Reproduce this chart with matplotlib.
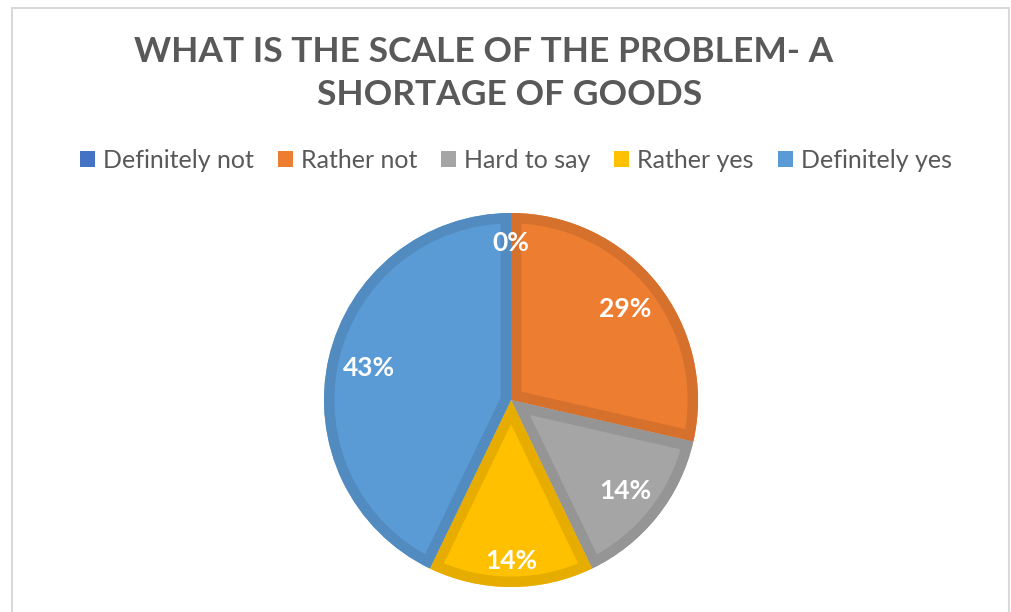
import matplotlib
matplotlib.use('Agg')
import matplotlib.pyplot as plt
from matplotlib.patches import Rectangle, PathPatch
import matplotlib.colors as mcolors

categories = ['Definitely not', 'Rather not', 'Hard to say', 'Rather yes', 'Definitely yes']
counts = [0, 2, 1, 1, 3]
labels = ['0%', '29%', '14%', '14%', '43%']
colors = ['#4472C4', '#ED7D31', '#A5A5A5', '#FFC000', '#5B9BD5']

plt.rcParams['font.family'] = ['Lato', 'DejaVu Sans']

fig = plt.figure(figsize=(10.11, 6.12), dpi=100)
W, H = 1011, 612

# chart area border (light gray)
fig.add_artist(Rectangle((12 / W, -0.1), (1009 - 12) / W, (612 - 8) / H + 0.1,
                         transform=fig.transFigure, fill=False,
                         edgecolor='#d9d9d9', linewidth=1.5))

# title, two lines as wrapped in the original
fig.text(484 / W, 1 - 52 / H, 'WHAT IS THE SCALE OF THE PROBLEM- A', ha='center', va='center',
         fontsize=25.5, fontweight='bold', color='#595959')
fig.text(510 / W, 1 - 95 / H, 'SHORTAGE OF GOODS', ha='center', va='center',
         fontsize=25.5, fontweight='bold', color='#595959')

# pie: centre (511, 400), radius 187 px
ax = fig.add_axes([324 / W, 25 / H, 374 / W, 374 / H])
wedges, texts, autotexts = ax.pie(counts, colors=colors, startangle=90, counterclock=False,
                                  autopct='%1.0f%%', pctdistance=0.78, radius=1,
                                  wedgeprops=dict(linewidth=0),
                                  textprops=dict(color='white', fontsize=19, fontweight='bold'))
# darker border drawn inside each slice (Excel style)
for w, c in zip(wedges, colors):
    dark = [v * 0.9 for v in mcolors.to_rgb(c)]
    border = PathPatch(w.get_path(), transform=w.get_transform(), facecolor='none',
                       edgecolor=dark, linewidth=15, zorder=w.get_zorder() + 0.1)
    ax.add_patch(border)
    border.set_clip_path(w.get_path(), w.get_transform())
for t, lab in zip(autotexts, labels):
    t.set_text(lab)
    t.set_zorder(5)
# labels that Excel pushed out a little
autotexts[0].set_position((0, 0.84))
autotexts[3].set_position((0, -0.86))
ax.set_xlim(-1, 1)
ax.set_ylim(-1, 1)
ax.set_aspect('equal')
ax.axis('off')

handles = [Rectangle((0, 0), 1, 1, facecolor=c) for c in colors]
fig.legend(handles, categories, loc='center', bbox_to_anchor=(516 / W, 1 - 160 / H), ncol=5,
           frameon=False, fontsize=18, labelcolor='#595959', handlelength=0.6,
           handleheight=0.6, handletextpad=0.32, columnspacing=0.95)

fig.savefig('out.png', dpi=100)
